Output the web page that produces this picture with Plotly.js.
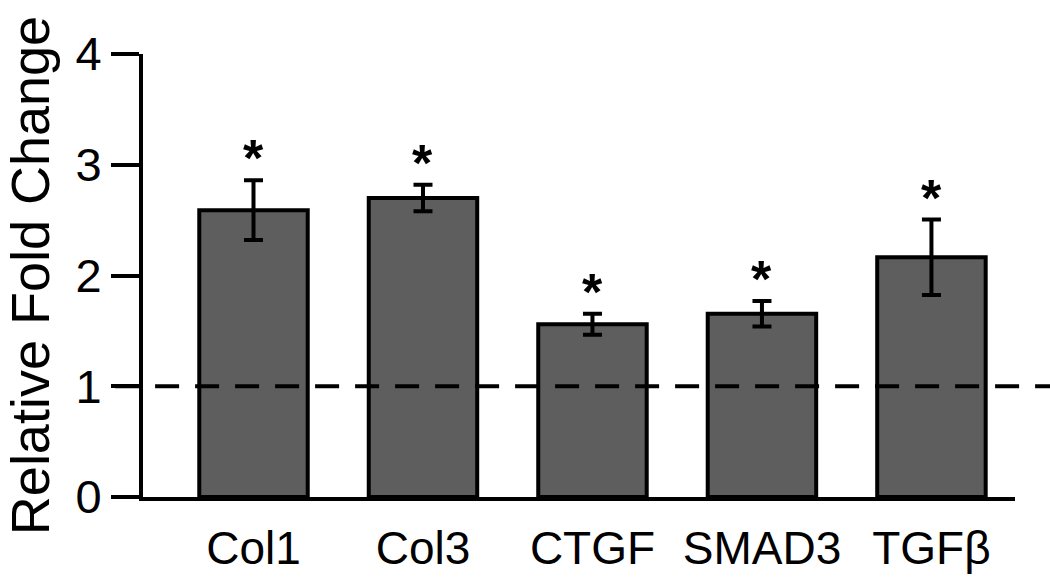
<!DOCTYPE html>
<html>
<head>
<meta charset="utf-8">
<script src="https://cdn.plot.ly/plotly-3.0.1.min.js"></script>
<style>html,body{margin:0;padding:0;background:#fff}#chart{width:1050px;height:582px}</style>
</head>
<body>
<div id="chart"></div>
<script>
const categories = ["Col1", "Col3", "CTGF", "SMAD3", "TGF\u03b2"];
const foldChange = [2.59, 2.70, 1.56, 1.655, 2.165];
const sem = [0.27, 0.12, 0.095, 0.115, 0.34];
const significant = ["*", "*", "*", "*", "*"];
const baseline = 1;
const yTicks = [0, 1, 2, 3, 4];

const trace = {
  type: "bar",
  x: categories,
  y: foldChange,
  marker: { color: "#5e5e5e", line: { color: "#000", width: 4 } },
  error_y: { type: "data", array: sem, visible: true, color: "#000", thickness: 4, width: 9.5 },
  hoverinfo: "skip"
};

const annotations = categories.map((c, i) => ({
  x: c, y: foldChange[i] + sem[i], xref: "x", yref: "y",
  text: "<b>" + significant[i] + "</b>", showarrow: false,
  yanchor: "bottom", yshift: -9,
  font: { family: "Liberation Sans, Arial, sans-serif", size: 52, color: "#000" }
}));

const layout = {
  width: 1050, height: 582,
  margin: { l: 143, r: 35, t: 54, b: 85 },
  paper_bgcolor: "#fff", plot_bgcolor: "#fff",
  showlegend: false,
  bargap: 0.36,
  font: { family: "Liberation Sans, Arial, sans-serif", color: "#000" },
  xaxis: {
    range: [-0.652, 4.493],
    showline: true, linecolor: "#000", linewidth: 4,
    ticks: "", showgrid: false, zeroline: false,
    ticklabelstandoff: 8,
    tickfont: { size: 46 }
  },
  yaxis: {
    range: [0, 4],
    tickvals: yTicks, ticktext: yTicks.map(String),
    showline: true, linecolor: "#000", linewidth: 4,
    ticks: "outside", ticklen: 28, tickwidth: 4, tickcolor: "#000",
    showgrid: false, zeroline: false,
    tickfont: { size: 47 },
    title: { text: "Relative Fold Change", font: { size: 54 }, standoff: 28 }
  },
  shapes: [{
    type: "line", xref: "paper", yref: "y",
    x0: -0.032, x1: 1.05, y0: baseline, y1: baseline,
    line: { color: "#000", width: 4, dash: "24px,16px" }
  }],
  annotations: annotations
};

Plotly.newPlot("chart", [trace], layout, { displayModeBar: false, staticPlot: true });
</script>
</body>
</html>
